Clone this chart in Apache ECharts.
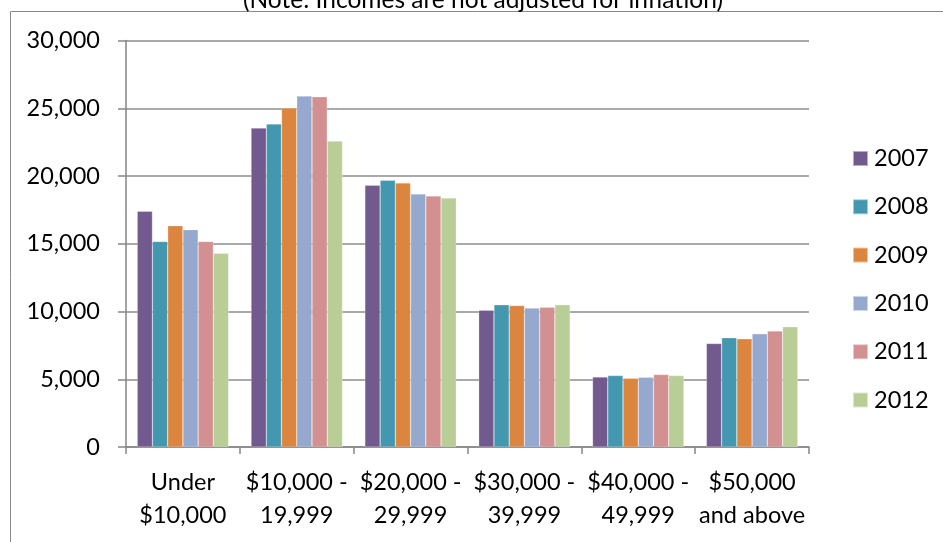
<!DOCTYPE html>
<html>
<head>
<meta charset="utf-8">
<script src="https://cdn.jsdelivr.net/npm/echarts@6/dist/echarts.min.js"></script>
<style>
html,body{margin:0;padding:0;background:#fff;}
#c{width:943px;height:542px;}
</style>
</head>
<body>
<div id="c"></div>
<script>
const categories = ["Under\n$10,000", "$10,000 -\n19,999", "$20,000 -\n29,999", "$30,000 -\n39,999", "$40,000 -\n49,999", "$50,000\nand above"];
const years = ["2007", "2008", "2009", "2010", "2011", "2012"];
const v2007 = [17400, 23540, 19310, 10100, 5170, 7640];
const v2008 = [15170, 23840, 19680, 10490, 5270, 8060];
const v2009 = [16330, 25020, 19490, 10440, 5070, 7980];
const v2010 = [16040, 25900, 18680, 10250, 5150, 8350];
const v2011 = [15170, 25850, 18530, 10320, 5350, 8570];
const v2012 = [14290, 22580, 18380, 10490, 5270, 8870];
const yTicks = [0, 5000, 10000, 15000, 20000, 25000, 30000];
const titleText = "(Note: Incomes are not adjusted for inflation)";

const colors = ["#72598e", "#4397ae", "#dc853e", "#95a9cf", "#d29190", "#b9cd96"];
const seriesData = [v2007, v2008, v2009, v2010, v2011, v2012];
const FONT = "Lato";
const FS = 23.5;

const chart = echarts.init(document.getElementById('c'), null, {renderer: 'canvas'});
chart.setOption({
  animation: false,
  color: colors,
  textStyle: {fontFamily: FONT},
  graphic: [
    {type: 'rect', shape: {x: 10.5, y: 11.5, width: 1000, height: 600}, style: {fill: 'none', stroke: '#8a8a8a', lineWidth: 1}, silent: true, z: -1},
    {type: 'text', x: 483, y: 0, style: {text: titleText, font: '24.5px ' + FONT, fill: '#000', align: 'center', verticalAlign: 'middle'}}
  ],
  grid: {left: 126, right: 134, top: 40.5, bottom: 95},
  legend: {
    orient: 'vertical', left: 852, top: 146.5, padding: 0,
    itemWidth: 15, itemHeight: 15, itemGap: 24.3,
    icon: 'rect',
    textStyle: {fontSize: FS, lineHeight: 24, color: '#000', fontFamily: FONT, padding: [0,0,0,1]},
    data: years
  },
  xAxis: {
    type: 'category', data: categories,
    axisLine: {lineStyle: {color: '#868686', width: 1.5}},
    axisTick: {show: true, length: 7, lineStyle: {color: '#868686', width: 1.5}},
    axisLabel: {interval: 0, color: '#000', fontSize: FS, lineHeight: 33, margin: 18.5, fontFamily: FONT}
  },
  yAxis: {
    type: 'value', min: 0, max: 30000, interval: 5000,
    axisLine: {show: true, lineStyle: {color: '#868686', width: 1.5}},
    axisTick: {show: true, length: 8, lineStyle: {color: '#868686', width: 1.5}},
    splitLine: {lineStyle: {color: '#8c8c8c', width: 1.5}},
    axisLabel: {color: '#000', fontSize: FS, margin: 26, fontFamily: FONT,
      formatter: v => yTicks.includes(v) ? v.toLocaleString('en-US') : ''}
  },
  series: years.map((y, i) => ({
    name: y, type: 'bar', data: seriesData[i],
    barGap: '0%', barCategoryGap: '19.7%',
    itemStyle: {color: colors[i], borderColor: 'rgba(255,255,255,0.5)', borderWidth: 0.5}
  }))
});
</script>
</body>
</html>
